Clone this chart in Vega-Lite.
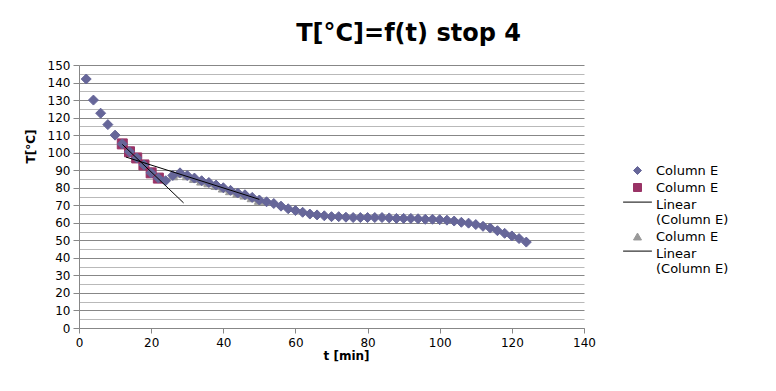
{
  "$schema": "https://vega.github.io/schema/vega-lite/v6.json",
  "autosize": "none",
  "width": 505,
  "height": 263,
  "padding": {"left": 79, "top": 65, "right": 192, "bottom": 63},
  "background": "white",
  "title": {"text": "T[°C]=f(t) stop 4", "font": "DejaVu Sans", "fontSize": 24, "fontWeight": "bold", "color": "black", "anchor": "middle", "frame": "group", "dx": 77, "baseline": "alphabetic", "offset": -6},
  "datasets": {
    "pts": [
      {"t": 2, "T": 142, "grp": "a"}, {"t": 4, "T": 130, "grp": "a"}, {"t": 6, "T": 122.5, "grp": "a"}, {"t": 8, "T": 116, "grp": "a"},
      {"t": 10, "T": 110, "grp": "a"}, {"t": 12, "T": 105, "grp": "a"}, {"t": 14, "T": 100.5, "grp": "a"}, {"t": 16, "T": 97, "grp": "a"},
      {"t": 18, "T": 93, "grp": "a"}, {"t": 20, "T": 88.5, "grp": "a"}, {"t": 22, "T": 85.5, "grp": "a"}, {"t": 24, "T": 84, "grp": "a"},
      {"t": 26, "T": 87, "grp": "a"}, {"t": 28, "T": 88.5, "grp": "a"}, {"t": 30, "T": 87, "grp": "a"}, {"t": 32, "T": 85.5, "grp": "a"},
      {"t": 34, "T": 84, "grp": "a"}, {"t": 36, "T": 83, "grp": "a"}, {"t": 38, "T": 81.5, "grp": "a"}, {"t": 40, "T": 80, "grp": "a"},
      {"t": 42, "T": 78.5, "grp": "a"}, {"t": 44, "T": 77, "grp": "a"}, {"t": 46, "T": 76, "grp": "a"}, {"t": 48, "T": 74.5, "grp": "a"},
      {"t": 50, "T": 73, "grp": "a"}, {"t": 52, "T": 72, "grp": "a"}, {"t": 54, "T": 71, "grp": "a"}, {"t": 56, "T": 69.5, "grp": "a"},
      {"t": 58, "T": 68, "grp": "a"}, {"t": 60, "T": 67, "grp": "a"}, {"t": 62, "T": 66, "grp": "a"}, {"t": 64, "T": 65, "grp": "a"},
      {"t": 66, "T": 64.5, "grp": "a"}, {"t": 68, "T": 64, "grp": "a"}, {"t": 70, "T": 63.5, "grp": "a"}, {"t": 72, "T": 63.5, "grp": "a"},
      {"t": 74, "T": 63.2, "grp": "a"}, {"t": 76, "T": 63, "grp": "a"}, {"t": 78, "T": 63, "grp": "a"}, {"t": 80, "T": 63, "grp": "a"},
      {"t": 82, "T": 63, "grp": "a"}, {"t": 84, "T": 63, "grp": "a"}, {"t": 86, "T": 62.8, "grp": "a"}, {"t": 88, "T": 62.5, "grp": "a"},
      {"t": 90, "T": 62.5, "grp": "a"}, {"t": 92, "T": 62.5, "grp": "a"}, {"t": 94, "T": 62.3, "grp": "a"}, {"t": 96, "T": 62, "grp": "a"},
      {"t": 98, "T": 62, "grp": "a"}, {"t": 100, "T": 61.8, "grp": "a"}, {"t": 102, "T": 61.5, "grp": "a"}, {"t": 104, "T": 61, "grp": "a"},
      {"t": 106, "T": 60.3, "grp": "a"}, {"t": 108, "T": 59.8, "grp": "a"}, {"t": 110, "T": 59, "grp": "a"}, {"t": 112, "T": 58, "grp": "a"},
      {"t": 114, "T": 57, "grp": "a"}, {"t": 116, "T": 55.5, "grp": "a"}, {"t": 118, "T": 54, "grp": "a"}, {"t": 120, "T": 52.5, "grp": "a"},
      {"t": 122, "T": 51, "grp": "a"}, {"t": 124, "T": 49, "grp": "a"},
      {"t": 12, "T": 105, "grp": "b"}, {"t": 14, "T": 100.5, "grp": "b"}, {"t": 16, "T": 97, "grp": "b"},
      {"t": 18, "T": 93, "grp": "b"}, {"t": 20, "T": 88.5, "grp": "b"}, {"t": 22, "T": 85.5, "grp": "b"},
      {"t": 26, "T": 87, "grp": "d"}, {"t": 28, "T": 88.5, "grp": "d"}, {"t": 30, "T": 87, "grp": "d"}, {"t": 32, "T": 85.5, "grp": "d"},
      {"t": 34, "T": 84, "grp": "d"}, {"t": 36, "T": 83, "grp": "d"}, {"t": 38, "T": 81.5, "grp": "d"}, {"t": 40, "T": 80, "grp": "d"},
      {"t": 42, "T": 78.5, "grp": "d"}, {"t": 44, "T": 77, "grp": "d"}, {"t": 46, "T": 76, "grp": "d"}, {"t": 48, "T": 74.5, "grp": "d"},
      {"t": 50, "T": 73, "grp": "d"}
    ]
  },
  "data": {"name": "pts"},
  "resolve": {"axis": {"y": "independent"}},
  "encoding": {
    "x": {"field": "t", "type": "quantitative", "scale": {"domain": [0, 140], "nice": false, "padding": 0, "zero": false},
      "axis": {"values": [0, 20, 40, 60, 80, 100, 120, 140], "grid": false, "labelFlush": false, "title": "t [min]", "titleX": 267, "titleY": 27, "titleAlign": "center", "titleBaseline": "middle", "tickSize": 5, "labelPadding": 4}},
    "fill": {"field": "grp", "type": "nominal",
      "scale": {"domain": ["a", "b", "c", "d", "e"], "range": ["#666699", "#993366", "#000000", "#999999", "#000000"]},
      "legend": {"title": null, "orient": "none", "legendX": 552, "legendY": 99, "padding": 0, "symbolSize": 64, "labelFont": "DejaVu Sans", "labelFontSize": 13, "labelColor": "black", "labelOffset": 12, "rowPadding": 3, "symbolStrokeWidth": 1, "labelExpr": "(datum.value == 'c' || datum.value == 'e') ? ['Linear', '(Column E)'] : 'Column E'"}},
    "stroke": {"field": "grp", "type": "nominal",
      "scale": {"domain": ["a", "b", "c", "d", "e"], "range": ["#666699", "#993366", "#000000", "#999999", "#000000"]},
      "legend": {"title": null, "orient": "none", "legendX": 552, "legendY": 99, "padding": 0, "symbolSize": 64, "labelFont": "DejaVu Sans", "labelFontSize": 13, "labelColor": "black", "labelOffset": 12, "rowPadding": 3, "symbolStrokeWidth": 1, "labelExpr": "(datum.value == 'c' || datum.value == 'e') ? ['Linear', '(Column E)'] : 'Column E'"}},
    "shape": {"field": "grp", "type": "nominal",
      "scale": {"domain": ["a", "b", "c", "d", "e"], "range": ["diamond", "square", "M-3.6,-0.6L3.6,-0.6", "triangle-up", "M-3.6,-0.6L3.6,-0.6"]},
      "legend": {"title": null, "orient": "none", "legendX": 552, "legendY": 99, "padding": 0, "symbolSize": 64, "labelFont": "DejaVu Sans", "labelFontSize": 13, "labelColor": "black", "labelOffset": 12, "rowPadding": 3, "symbolStrokeWidth": 1, "labelExpr": "(datum.value == 'c' || datum.value == 'e') ? ['Linear', '(Column E)'] : 'Column E'"}}
  },
  "layer": [
    {
      "transform": [{"filter": "datum.grp == 'd'"}],
      "mark": {"type": "point", "filled": true, "size": 100, "strokeWidth": 1, "opacity": 1},
      "encoding": {
        "y": {"field": "T", "type": "quantitative", "scale": {"domain": [0, 150], "nice": false, "padding": 0, "zero": false},
          "axis": {"orient": "left", "values": [5, 15, 25, 35, 45, 55, 65, 75, 85, 95, 105, 115, 125, 135, 145], "grid": true, "gridColor": "#b9b9b9", "labels": false, "ticks": false, "domain": false, "title": null}}
      }
    },
    {
      "transform": [{"filter": "datum.grp == 'b'"}],
      "mark": {"type": "point", "filled": true, "size": 100, "strokeWidth": 1, "opacity": 1},
      "encoding": {
        "y": {"field": "T", "type": "quantitative",
          "axis": {"orient": "left", "values": [0, 10, 20, 30, 40, 50, 60, 70, 80, 90, 100, 110, 120, 130, 140, 150], "grid": true, "gridColor": "#878787", "tickSize": 6, "labelPadding": 3, "title": "T[°C]", "titleX": -49, "titleY": 81, "titleAngle": 270, "titleAlign": "center", "titleBaseline": "middle"}}
      }
    },
    {
      "transform": [{"filter": "datum.grp == 'a'"}],
      "mark": {"type": "point", "filled": true, "size": 100, "strokeWidth": 1, "opacity": 1},
      "encoding": {
        "y": {"field": "T", "type": "quantitative", "axis": null}
      }
    },
    {
      "transform": [{"filter": "datum.grp == 'b'"}, {"regression": "T", "on": "t", "extent": [12, 29]}],
      "mark": {"type": "line", "strokeWidth": 1, "color": "black"},
      "encoding": {
        "y": {"field": "T", "type": "quantitative", "axis": null},
        "fill": null, "stroke": null, "shape": null
      }
    },
    {
      "transform": [{"filter": "datum.grp == 'd'"}, {"regression": "T", "on": "t", "extent": [13, 50]}],
      "mark": {"type": "line", "strokeWidth": 1, "color": "black"},
      "encoding": {
        "y": {"field": "T", "type": "quantitative", "axis": null},
        "fill": null, "stroke": null, "shape": null
      }
    }
  ],
  "config": {
    "font": "DejaVu Sans",
    "view": {"stroke": null},
    "axis": {"labelFont": "DejaVu Sans", "labelFontSize": 12, "labelColor": "black", "titleFont": "DejaVu Sans", "titleFontSize": 12, "titleFontWeight": "bold", "titleColor": "black", "domainColor": "#878787", "tickColor": "#878787", "domainWidth": 1}
  }
}
